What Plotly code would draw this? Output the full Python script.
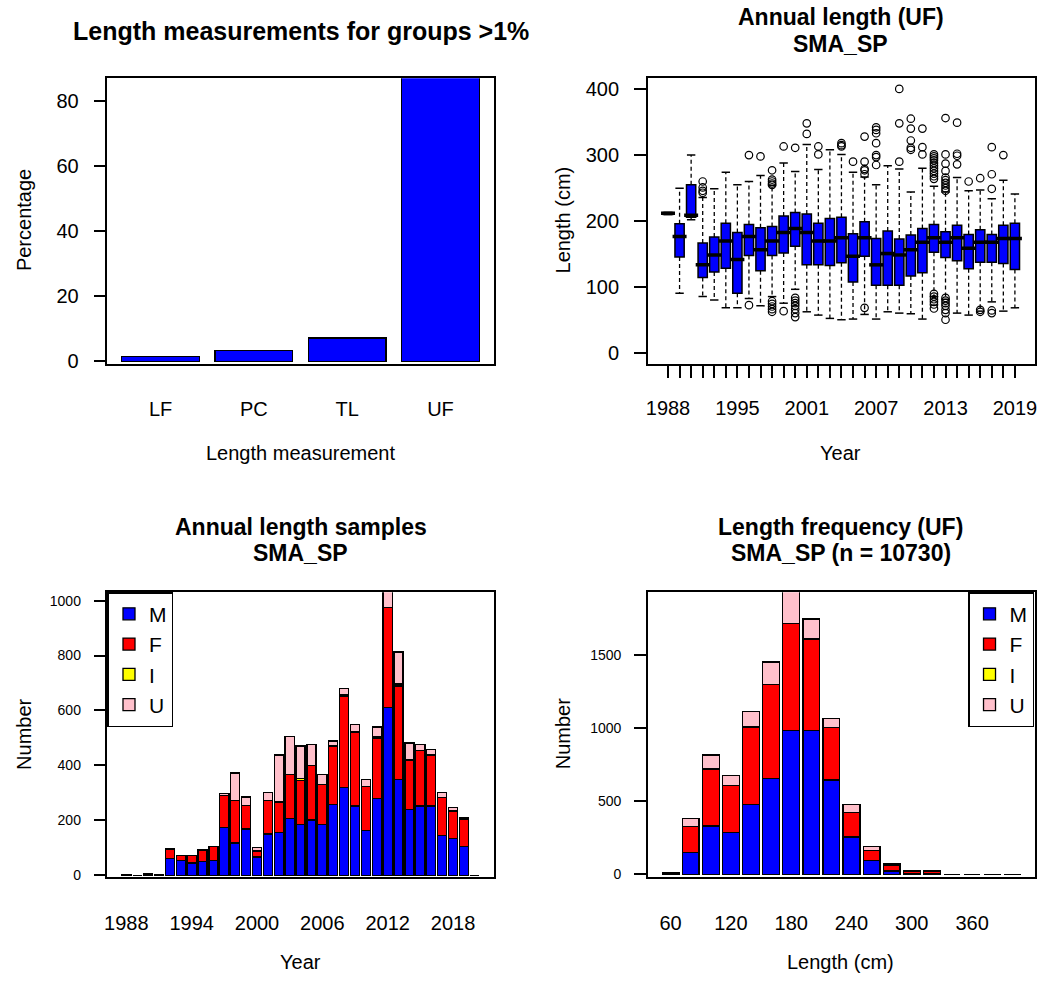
import plotly.graph_objects as go

FONT = "Liberation Sans, Arial, Helvetica, sans-serif"
W, H = 1040, 989
BLUE, RED, YELLOW, PINK = "#0000FF", "#FF0000", "#FFFF00", "#FFC0CB"

# ---------------- Panel 1: length measurement types ----------------
meas_types = ["LF", "PC", "TL", "UF"]
meas_pct = [1.6, 3.4, 7.2, 87.8]

# ---------------- Panel 2: annual length boxplots (UF) ----------------
box_years = ["1988", "1990", "1991", "1992", "1993", "1994", "1995", "1996", "1997",
             "1998", "1999", "2000", "2001", "2002", "2003", "2004", "2005", "2006",
             "2007", "2008", "2009", "2010", "2011", "2012", "2013", "2014", "2015",
             "2016", "2017", "2018", "2019"]
box_lo = [210, 91, 202, 86, 81, 69, 69, 83, 72, 86, 76, 97, 63, 58, 53, 51, 52, 59,
          52, 63, 61, 60, 52, 86, 82, 61, 58, 64, 78, 64, 69]
box_q1 = [210, 146, 206, 115, 123, 129, 91, 148, 125, 148, 152, 162, 134, 134, 133, 137,
          108, 147, 103, 103, 103, 117, 122, 153, 145, 140, 128, 138, 138, 136, 127]
box_med = [212, 177, 209, 134, 149, 170, 142, 177, 157, 170, 183, 189, 183, 170, 170, 175,
           147, 175, 134, 151, 149, 157, 168, 175, 168, 175, 159, 168, 168, 174, 174]
box_q3 = [213, 196, 255, 167, 176, 197, 183, 195, 190, 192, 208, 213, 211, 197, 204, 206,
          181, 199, 174, 185, 173, 179, 189, 195, 184, 194, 180, 187, 180, 194, 197]
box_hi = [213, 250, 300, 236, 249, 274, 255, 260, 269, 254, 288, 275, 316, 278, 308, 301,
          274, 267, 255, 284, 279, 244, 280, 253, 244, 266, 246, 247, 234, 262, 241]
box_labels = ["1988", "1995", "2001", "2007", "2013", "2019"]

out_years = (["1992"] * 4 + ["1996"] * 2 + ["1997"] + ["1998"] * 10 + ["1999"] * 2 +
             ["2000"] * 8 + ["2001"] * 2 + ["2002"] * 2 + ["2004"] * 3 + ["2005"] +
             ["2006"] * 6 + ["2007"] * 7 + ["2009"] * 3 + ["2010"] * 5 + ["2011"] * 3 +
             ["2012"] * 17 + ["2013"] * 17 + ["2014"] * 4 + ["2015"] + ["2016"] * 3 +
             ["2017"] * 5 + ["2018"])
out_vals = ([260, 251, 246, 243] +
            [300, 73] +
            [298] +
            [277, 263, 260, 257, 255, 79, 75, 71, 67, 63] +
            [313, 64] +
            [311, 84, 80, 76, 72, 67, 61, 55] +
            [348, 332] +
            [313, 301] +
            [318, 315, 313] +
            [290] +
            [328, 290, 279, 277, 271, 69] +
            [342, 338, 333, 318, 300, 297, 285] +
            [400, 348, 290] +
            [355, 340, 322, 311, 308] +
            [340, 312, 301] +
            [301, 298, 295, 292, 288, 284, 280, 276, 272, 268, 264, 90, 86, 82, 78, 74, 68] +
            [356, 301, 287, 276, 266, 262, 258, 254, 250, 246, 84, 80, 76, 72, 66, 61, 51] +
            [349, 302, 299, 286] +
            [260] +
            [265, 66, 63] +
            [312, 271, 249, 65, 61] +
            [300])

# ---------------- Panel 3: annual length samples by sex ----------------
sample_years = ["1988", "1989", "1990", "1991", "1992", "1993", "1994", "1995", "1996",
                "1997", "1998", "1999", "2000", "2001", "2002", "2003", "2004", "2005",
                "2006", "2007", "2008", "2009", "2010", "2011", "2012", "2013", "2014",
                "2015", "2016", "2017", "2018", "2019", "2020"]
sample_M = [0, 0, 3, 0, 62, 54, 44, 50, 54, 174, 117, 168, 66, 150, 156, 206, 185, 201,
            185, 257, 320, 252, 162, 279, 612, 348, 240, 252, 252, 144, 134, 104, 0]
sample_F = [0, 0, 3, 2, 34, 18, 28, 40, 51, 116, 156, 87, 22, 123, 111, 160, 160, 198,
            145, 214, 330, 270, 162, 221, 362, 341, 180, 201, 186, 140, 100, 100, 0]
sample_I = [0, 0, 0, 0, 0, 0, 0, 0, 0, 0, 0, 0, 0, 0, 0, 0, 8, 0,
            0, 0, 6, 0, 0, 5, 0, 7, 0, 0, 0, 0, 0, 0, 0]
sample_U = [2, 0, 0, 0, 0, 0, 0, 3, 0, 7, 99, 30, 12, 29, 171, 140, 118, 78,
            36, 18, 24, 27, 24, 35, 80, 117, 62, 23, 21, 18, 12, 4, 0]
sample_labels = ["1988", "1994", "2000", "2006", "2012", "2018"]

# ---------------- Panel 4: length frequency (UF) by sex ----------------
len_bins = ["60", "80", "100", "120", "140", "160", "180", "200", "220", "240", "260",
            "280", "300", "320", "340", "360", "380", "400"]
len_M = [8, 149, 330, 285, 477, 658, 986, 986, 647, 256, 93, 23, 3, 2, 0, 0, 0, 0]
len_F = [4, 177, 389, 321, 532, 645, 731, 627, 357, 169, 68, 36, 18, 19, 0, 0, 0, 0]
len_I = [0, 3, 8, 0, 0, 0, 0, 0, 0, 0, 0, 5, 0, 0, 0, 0, 0, 0]
len_U = [0, 53, 90, 70, 106, 152, 230, 138, 66, 52, 29, 11, 2, 2, 0, 0, 0, 0]
len_labels = ["60", "120", "180", "240", "300", "360"]

sex_names = ["M", "F", "I", "U"]
sex_colors = [BLUE, RED, YELLOW, PINK]


def hx(p):
    return p / W


def vy(p):
    return 1 - p / H


def axis(**kw):
    base = dict(showgrid=False, zeroline=False, showline=True, mirror=True,
                linecolor="black", linewidth=1.5, fixedrange=True,
                tickfont=dict(family=FONT, size=20, color="black"),
                tickcolor="black", tickwidth=1.5)
    base.update(kw)
    return base


fig = go.Figure()

# Panel 1
fig.add_trace(go.Bar(x=meas_types, y=meas_pct, xaxis="x", yaxis="y", showlegend=False,
                     marker=dict(color=BLUE, line=dict(color="black", width=1.3)),
                     hoverinfo="skip"))

# Panel 2
fig.add_trace(go.Box(x=box_years, q1=box_q1, median=box_med, q3=box_q3,
                     lowerfence=box_q1, upperfence=box_q3, width=0.8, whiskerwidth=0,
                     fillcolor=BLUE, line=dict(color="black", width=1.5),
                     xaxis="x2", yaxis="y2", showlegend=False, hoverinfo="skip"))
wx, wy = [], []
for yr, lo, q1, q3, hi in zip(box_years, box_lo, box_q1, box_q3, box_hi):
    wx += [yr, yr, None, yr, yr, None]
    wy += [q3, hi, None, q1, lo, None]
fig.add_trace(go.Scatter(x=wx, y=wy, mode="lines", xaxis="x2", yaxis="y2",
                         line=dict(color="black", width=1.3, dash="4px,3px"),
                         showlegend=False, hoverinfo="skip"))
fig.add_trace(go.Scatter(x=box_years + box_years, y=box_hi + box_lo, mode="markers",
                         xaxis="x2", yaxis="y2", showlegend=False, hoverinfo="skip",
                         marker=dict(symbol="line-ew", size=6,
                                     line=dict(color="black", width=1.5))))
fig.add_trace(go.Scatter(x=box_years, y=box_med, mode="markers", xaxis="x2", yaxis="y2",
                         showlegend=False, hoverinfo="skip",
                         marker=dict(symbol="line-ew", size=10,
                                     line=dict(color="black", width=3.5))))
fig.add_trace(go.Scatter(x=out_years, y=out_vals, mode="markers", xaxis="x2", yaxis="y2",
                         showlegend=False, hoverinfo="skip",
                         marker=dict(symbol="circle-open", size=7.5, color="black",
                                     line=dict(width=1.2))))

# Panel 3
for name, vals, col in zip(sex_names, [sample_M, sample_F, sample_I, sample_U], sex_colors):
    fig.add_trace(go.Bar(x=sample_years, y=vals, name=name, xaxis="x3", yaxis="y3",
                         legend="legend", hoverinfo="skip",
                         marker=dict(color=col, line=dict(color="black", width=1.3))))

# Panel 4
for name, vals, col in zip(sex_names, [len_M, len_F, len_I, len_U], sex_colors):
    fig.add_trace(go.Bar(x=len_bins, y=vals, name=name, xaxis="x4", yaxis="y4",
                         legend="legend2", hoverinfo="skip",
                         marker=dict(color=col, line=dict(color="black", width=1.3))))

left_dom = [hx(105), hx(493)]
right_dom = [hx(648), hx(1037)]
top_dom = [vy(367), vy(79)]
bot_dom = [vy(884), vy(597)]

legend_style = dict(bordercolor="black", borderwidth=1.5, bgcolor="white",
                    font=dict(family=FONT, size=21, color="black"),
                    traceorder="normal", itemclick=False, itemdoubleclick=False,
                    yanchor="top", y=vy(597))

fig.update_layout(
    width=W, height=H, autosize=False,
    margin=dict(l=0, r=0, t=0, b=0),
    paper_bgcolor="white", plot_bgcolor="white",
    font=dict(family=FONT, color="black"),
    barmode="stack", bargap=1 / 6,
    xaxis=axis(domain=left_dom, anchor="y", type="category", range=[-0.57, 3.57],
               ticks="", ticklabelstandoff=26),
    yaxis=axis(domain=top_dom, anchor="x", range=[-0.8, 86.9],
               tickvals=[0, 20, 40, 60, 80], ticks="outside", ticklen=12,
               ticklabelstandoff=11),
    xaxis2=axis(domain=right_dom, anchor="y2", type="category",
                categoryorder="array", categoryarray=box_years,
                range=[-1.74, 31.74], tickmode="array", tickvals=box_years,
                ticktext=[y if y in box_labels else "" for y in box_years],
                ticks="outside", ticklen=12, ticklabelstandoff=13),
    yaxis2=axis(domain=top_dom, anchor="x2", range=[-16, 416],
                tickvals=[0, 100, 200, 300, 400], ticks="outside", ticklen=12,
                ticklabelstandoff=11),
    xaxis3=axis(domain=left_dom, anchor="y3", type="category",
                categoryorder="array", categoryarray=sample_years,
                range=[-1.73, 33.73], tickmode="array", tickvals=sample_labels,
                ticktext=sample_labels, ticks="", ticklabelstandoff=27),
    yaxis3=axis(domain=bot_dom, anchor="x3", range=[-6, 1031],
                tickvals=[0, 200, 400, 600, 800, 1000], ticks="outside", ticklen=12,
                tickfont=dict(family=FONT, size=14, color="black"),
                ticklabelstandoff=10),
    xaxis4=axis(domain=right_dom, anchor="y4", type="category",
                categoryorder="array", categoryarray=len_bins,
                range=[-1.13, 18.13], tickmode="array", tickvals=len_labels,
                ticktext=len_labels, ticks="", ticklabelstandoff=27),
    yaxis4=axis(domain=bot_dom, anchor="x4", range=[-18, 1934],
                tickvals=[0, 500, 1000, 1500], ticks="outside", ticklen=12,
                tickfont=dict(family=FONT, size=14, color="black"),
                ticklabelstandoff=10),
    legend=dict(legend_style, x=hx(105), xanchor="left"),
    legend2=dict(legend_style, x=hx(1036), xanchor="right"),
)

title1_font = dict(family=FONT, size=25, color="black")
title_font = dict(family=FONT, size=23, color="black")
label_font = dict(family=FONT, size=20, color="black")
annots = [
    ("<b>Length measurements for groups >1%</b>", 299, 31, title1_font, 0),
    ("<b>Annual length (UF)</b>", 842, 17, title_font, 0),
    ("<b>SMA_SP</b>", 842, 44, title_font, 0),
    ("<b>Annual length samples</b>", 299, 531, title_font, 0),
    ("<b>SMA_SP</b>", 299, 558, title_font, 0),
    ("<b>Length frequency (UF)</b>", 842, 531, title_font, 0),
    ("<b>SMA_SP (n = 10730)</b>", 842, 558, title_font, 0),
    ("Percentage", 21, 222, label_font, -90),
    ("Length measurement", 299, 457, label_font, 0),
    ("Length (cm)", 563, 222, label_font, -90),
    ("Year", 842, 457, label_font, 0),
    ("Number", 21, 740, label_font, -90),
    ("Year", 299, 970, label_font, 0),
    ("Number", 563, 740, label_font, -90),
    ("Length (cm)", 842, 970, label_font, 0),
]
for text, px, py, fnt, ang in annots:
    fig.add_annotation(text=text, x=hx(px), y=vy(py), xref="paper", yref="paper",
                       xanchor="center", yanchor="middle", showarrow=False,
                       font=fnt, textangle=ang)

fig.write_html("out.html")
